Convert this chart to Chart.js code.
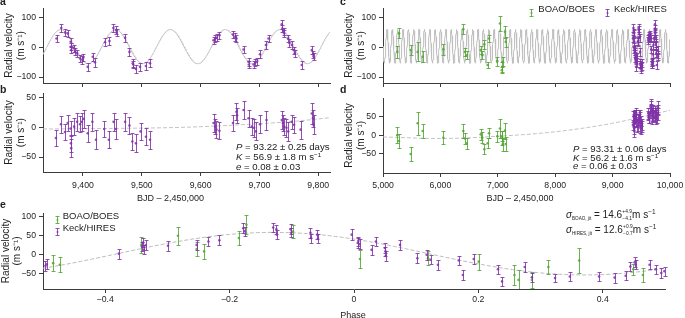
<!DOCTYPE html>
<html>
<head>
<meta charset="utf-8">
<script src="https://cdn.jsdelivr.net/npm/chart.js@4.4.1/dist/chart.umd.min.js"></script>
<style>
  html, body { margin:0; padding:0; background:#fff; }
  #wrap { position:relative; width:685px; height:318px; overflow:hidden; font-family:'Liberation Sans', Arial, Helvetica, sans-serif; color:#222; }
  #wrap canvas { position:absolute; }
  .t { position:absolute; white-space:nowrap; }
  .t sup { font-size:0.65em; vertical-align:0; position:relative; top:-0.5em; line-height:0; }
  .lt { font-weight:bold; }
  .stk { display:inline-block; position:relative; width:10px; height:1px; }
  .stk span { position:absolute; left:0.3px; font-size:4.8px; line-height:4.8px; }
  .sb { font-size:4.6px; position:relative; top:2.4px; }
  .ic { position:absolute; }
</style>
</head>
<body>
<div id="wrap">
  <canvas id="cA"></canvas><canvas id="cB"></canvas><canvas id="cC"></canvas><canvas id="cD"></canvas><canvas id="cE"></canvas>
</div>
<script>
// ---------------- data ----------------
const keckTimeA = [9355,9363,9369.5,9374,9379,9379.5,9380,9384,9386.5,9390,
  9395,9399,9400.6,9408,9416.6,9420.5,9437.5,9445,9451.7,9456,
  9457,9471.6,9479,9484.7,9485.5,9490,9497,9507,9514,
  9622,9624.8,9627.5,9632,9655,9659,9661,9673,9681.5,9682,
  9690,9693,9696,9701,9711,9715.5,9738,9739,9741,9742,
  9748.5,9751,9755,9758,9760,9772,9789,9791,9792];
const keckRvA = [29,64,49,46,18,1,-10,-4,-16,-21,
  -38,-43,-35,-66,-32,-51,16,20,64,57,
  49,31,-16,-54,-58,-73,-66,-63,-54,
  23,29,31,40,42,34,29,-8,-49,-58,
  -58,-52,-48,-24,7,29,76,62,53,46,
  29,14,7,-10,-21,-60,-10,-24,-31];
const keckErrA = [13,14,12,12,13,12,11,12,12,12,
  13,12,12,13,13,14,13,13,14,13,
  12,13,13,13,12,14,13,13,13,
  12,13,12,12,13,13,12,13,13,12,
  12,12,12,13,13,13,14,13,12,12,
  12,12,12,12,12,13,13,12,12];

const keckTimeB = [9354,9362.6,9369.4,9374,9379,9379.5,9380,9385,9390,9395,
  9398,9401,9408,9416,9422,9436,9444,9452,9456,9471.6,
  9479,9484,9490,9498,9507,9514,
  9622,9625,9627,9632,9655,9661,9662,9673,9681.5,9687,
  9691,9694,9701,9712,9738,9740,9742,9746,9749,9755,
  9759,9770,9789,9791,9792];
const keckResB = [-18,5,-8,7,-2,-27,-35,1,9,5,
  9,14,-10,9,-21,-3,-21,9,-3,9,
  3,-24,-27,-7,-16,-21,
  7,1,-4,-6,7,26,20,29,15,1,
  -1,-7,5,12,12,7,1,-1,-7,9,
  4,-4,23,15,4];
const keckErrB = [14,14,14,14,13,14,15,14,15,13,
  15,15,14,15,16,14,14,15,16,15,
  14,14,15,14,14,15,
  15,13,14,14,14,14,13,15,14,14,
  15,15,15,16,15,14,14,15,16,12,
  13,15,18,14,16];
const keckResD = [27,50,37,52,43,18,10,46,54,50,
  54,59,35,54,24,42,24,54,42,54,
  48,21,18,38,29,24,
  59,53,48,46,59,78,72,81,67,53,
  51,45,57,64,64,59,53,51,45,61,
  56,48,75,67,56];

const boaoTime = [5249,5279,5482,5604,5691,6051,6399,6429,6458,6702,6731,6765,6823,6847,6991,7038,7070,7078,7085,7125,7137];
const boaoRv   = [-16,46,-10,-16,-32,-7,60,-16,-27,-10,-27,9,-60,29,-47,79,-77,-66,-49,51,18];
const boaoErrC = [19,17,18,32,18,18,17,14,14,13,14,14,11,13,15,25,10,17,15,21,17];
const boaoResD = [0,-16,-51,32,11,-7,11,-9,-22,2,-7,-38,-22,5,-3,18,-3,-8,-25,12,-24];
const boaoErrD = [22,18,18,31,18,18,18,15,15,15,15,14,14,14,15,25,14,18,18,22,18];

const keckPhaseE = [-0.496,-0.494,-0.378,-0.341,-0.339,-0.338,-0.335,-0.299,-0.253,-0.234,
  -0.2165,-0.178,-0.176,-0.130,-0.1248,-0.124,-0.102,-0.101,-0.070,-0.069,
  -0.059,-0.058,
  -0.0037,0.006,0.007,0.009,0.0283,0.0352,0.0496,0.0506,0.051,0.074,
  0.1019,0.1168,0.123,0.1349,0.1685,0.175,0.1925,0.2315,0.238,0.2745,
  0.286,0.3232,0.347,0.394,0.419,0.4368,0.4443,0.4512,0.4528,0.4752,
  0.4848,0.494,0.4992];
const keckRvE = [-29,-25,3,22,32,13,25,24,26,35,
  38,70,62,72,67,53,67,58,58,44,
  53,42,
  53,31,36,28,13,35,18,9,-3,26,
  -9,0,-13,-26,-15,-53,-11,-38,-70,-32,
  -59,-61,-57,-57,-60,-55,-31,-20,-26,-26,
  -38,-48,-43];
const keckErrE = [14,13,13,13,12,12,13,13,13,13,
  13,13,12,13,12,12,13,12,13,12,
  12,12,
  14,12,12,13,13,13,13,12,12,13,
  13,13,12,13,13,13,13,12,12,13,
  12,11,12,13,13,12,12,13,12,12,
  12,12,12];
const boaoPhaseE = [-0.4837,-0.473,-0.342,-0.283,-0.253,-0.241,-0.185,-0.173,-0.098,0.0096,0.119,0.2005,0.258,0.2645,0.286,0.3125,0.362,0.449,0.4645];
const boaoRvE    = [-22,-26,26,50,15,9,44,79,61,-11,-9,-18,-53,-66,-66,-32,-15,-38,-53];
const boaoErrE   = [21,20,20,23,18,19,18,25,18,23,19,21,26,26,22,18,33,15,18];

const trendBTime = [9332,9450,9574,9684,9760,9820];
const trendBVal  = [-3,-2,0,5,10,16];
const trendDTime = [5000,6000,7000,8000,9000,10000];
const trendDVal  = [-5,-9,-3,9,32,67];

// fitted orbit parameters (model curves)
const fitA = {P:93.22, K:57, tPeak:9362, offset:1.5};
const fitC = {P:93.31, K:56.5, tPeak:9362, offset:2.5};
const fitE = {K:56, phasePeak:-0.13, offset:3};

const ticksXA = [9400,9500,9600,9700,9800];
const ticksXC = [5000,6000,7000,8000,9000,10000];
const ticksXE = [-0.4,-0.2,0,0.2,0.4];
const ticksYA = [-100,0,100];
const ticksYB = [-50,0,50];
const ticksYD = [-50,0,50];
const ticksYE = [-50,0,50,100];

// ---------------- helpers ----------------
const FONT = "'Liberation Sans', Arial, Helvetica, sans-serif";
const AXIS = '#3c3c3c';
const TXT = '#1e1e1e';
const PURPLE = 'rgba(128,50,168,0.85)';
const GREEN = 'rgba(82,166,52,0.85)';
const MODEL = '#bfbfbf';
const DASH = '#c4c4c4';

function pts(xs, ys) { return xs.map((x, i) => ({x: x, y: ys[i]})); }
function modelTime(fit, t0, t1, step) {
  const xs = [], ys = [];
  for (let t = t0; t <= t1 + 1e-9; t += step) { xs.push(t); ys.push(fit.K * Math.cos(2 * Math.PI * (t - fit.tPeak) / fit.P) + fit.offset); }
  return {xs, ys};
}
function modelPhase(fit, step) {
  const xs = [], ys = [];
  for (let p = -0.5; p <= 0.5 + 1e-9; p += step) { xs.push(p); ys.push(fit.K * Math.cos(2 * Math.PI * (p - fit.phasePeak)) + fit.offset); }
  return {xs, ys};
}
function ptSet(xs, ys, errs, color) {
  return {data: pts(xs, ys), errors: errs, backgroundColor: color, borderColor: color, pointRadius: 1.3, pointBorderWidth: 0, borderWidth: 0};
}
function lineSet(xs, ys, color, dash, smooth) {
  return {data: pts(xs, ys), showLine: true, borderColor: color, borderWidth: 1, borderDash: dash || [], pointRadius: 0,
          clip: 0, tension: smooth ? 0.4 : 0, cubicInterpolationMode: smooth ? 'monotone' : 'default'};
}
const fmtNum = v => (v < 0 ? '\u2212' : '') + Math.abs(v).toString().replace(/\B(?=(\d{3})+(?!\d))/g, ',');
const fmtPhase = v => v === 0 ? '0' : (v < 0 ? '\u2212' : '') + Math.abs(v).toFixed(1);

const errorBarPlugin = {
  id: 'errorBars',
  beforeDatasetDraw(chart, args) {
    const ds = chart.data.datasets[args.index];
    if (!ds.errors) return;
    const xs = args.meta.xScale, ys = args.meta.yScale;
    const ca = chart.chartArea, ctx = chart.ctx;
    ctx.save();
    ctx.beginPath(); ctx.rect(ca.left - 4, ca.top, ca.right - ca.left + 8, ca.bottom - ca.top); ctx.clip();
    ctx.strokeStyle = ds.borderColor; ctx.lineWidth = 1;
    ds.data.forEach((p, j) => {
      const e = ds.errors[j];
      const x = Math.round(xs.getPixelForValue(p.x)) + 0.5;
      const y1 = Math.round(ys.getPixelForValue(p.y - e)) + 0.5;
      const y2 = Math.round(ys.getPixelForValue(p.y + e)) + 0.5;
      ctx.beginPath();
      ctx.moveTo(x, y1); ctx.lineTo(x, y2);
      ctx.moveTo(x - 2, y1); ctx.lineTo(x + 2, y1);
      ctx.moveTo(x - 2, y2); ctx.lineTo(x + 2, y2);
      ctx.stroke();
    });
    ctx.restore();
  }
};

function panel(id, c) {
  const cv = document.getElementById(id);
  cv.style.left = c.left + 'px'; cv.style.top = c.top + 'px';
  cv.width = c.w; cv.height = c.h; cv.style.width = c.w + 'px'; cv.style.height = c.h + 'px';
  return new Chart(cv, {
    type: 'scatter',
    data: {datasets: c.datasets},
    options: {
      responsive: false, animation: false, events: [],
      layout: {padding: {top: c.padTop, right: c.padRight, left: 0, bottom: 0}},
      plugins: {legend: {display: false}, tooltip: {enabled: false}},
      scales: {
        x: {
          type: 'linear', min: c.xmin, max: c.xmax,
          afterFit: s => { s.height = c.xH; },
          afterBuildTicks: s => { s.ticks = c.xticks.map(v => ({value: v})); },
          grid: {display: true, drawOnChartArea: false, drawTicks: true, tickLength: 4, color: AXIS, tickColor: AXIS, tickWidth: 1},
          border: {display: true, color: AXIS, width: 1},
          ticks: {display: c.xLabels, padding: c.xPad, color: TXT, font: {family: FONT, size: 8.7}, callback: c.xfmt, maxRotation: 0, autoSkip: false}
        },
        y: {
          type: 'linear', min: c.ymin, max: c.ymax,
          afterFit: s => { s.width = 43; },
          afterBuildTicks: s => { s.ticks = c.yticks.map(v => ({value: v})); },
          grid: {display: true, drawOnChartArea: false, drawTicks: true, tickLength: 4, color: AXIS, tickColor: AXIS, tickWidth: 1},
          border: {display: true, color: AXIS, width: 1},
          ticks: {padding: 3, color: TXT, font: {family: FONT, size: 8.7}, callback: fmtNum},
          title: {display: true, text: ['Radial velocity', '(m s\u207B\u00B9)'], color: TXT,
                  font: {family: FONT, size: 10, lineHeight: c.titleLH || 1.25}, padding: {top: c.titlePad, bottom: 0}}
        }
      }
    },
    plugins: [errorBarPlugin]
  });
}

// ---------------- panels ----------------
const mA = modelTime(fitA, 9332, 9820, 1);
panel('cA', {left: 0, top: 0, w: 336, h: 92, padTop: 8, padRight: 6, xH: 9,
  xmin: 9332, xmax: 9820, ymin: -120, ymax: 130, xticks: ticksXA, yticks: ticksYA,
  xLabels: false, xPad: 4, xfmt: fmtNum, titlePad: 2.75,
  datasets: [ptSet(keckTimeA, keckRvA, keckErrA, PURPLE), lineSet(mA.xs, mA.ys, MODEL)]});

panel('cB', {left: 0, top: 85, w: 336, h: 107, padTop: 8, padRight: 6, xH: 20,
  xmin: 9332, xmax: 9820, ymin: -75, ymax: 57, xticks: ticksXA, yticks: ticksYB,
  xLabels: true, xPad: 4.4, xfmt: fmtNum, titlePad: 2.75,
  datasets: [ptSet(keckTimeB, keckResB, keckErrB, PURPLE), lineSet(trendBTime, trendBVal, DASH, [4, 2], true)]});

const mC = modelTime(fitC, 5000, 10000, 3);
panel('cC', {left: 340, top: 0, w: 348, h: 92, padTop: 8, padRight: 18, xH: 9,
  xmin: 5000, xmax: 10000, ymin: -120, ymax: 130, xticks: ticksXC, yticks: ticksYA,
  xLabels: false, xPad: 4, xfmt: fmtNum, titlePad: 2.75,
  datasets: [ptSet(keckTimeA, keckRvA, keckErrA, PURPLE), ptSet(boaoTime, boaoRv, boaoErrC, GREEN), lineSet(mC.xs, mC.ys, MODEL)]});

panel('cD', {left: 340, top: 85, w: 348, h: 108, padTop: 13, padRight: 18, xH: 20,
  xmin: 5000, xmax: 10000, ymin: -102, ymax: 100, xticks: ticksXC, yticks: ticksYD,
  xLabels: true, xPad: 3.4, xfmt: fmtNum, titlePad: 2.75,
  datasets: [ptSet(keckTimeB, keckResD, keckErrB, PURPLE), ptSet(boaoTime, boaoResD, boaoErrD, GREEN), lineSet(trendDTime, trendDVal, DASH, [4, 2], true)]});

const mE = modelPhase(fitE, 0.005);
panel('cE', {left: 0, top: 200, w: 670, h: 109, padTop: 13, padRight: 5, xH: 20,
  xmin: -0.5, xmax: 0.5, ymin: -90, ymax: 110, xticks: ticksXE, yticks: ticksYE,
  xLabels: true, xPad: 1.4, xfmt: fmtPhase, titlePad: 0, titleLH: 1.15,
  datasets: [ptSet(keckPhaseE, keckRvE, keckErrE, PURPLE), ptSet(boaoPhaseE, boaoRvE, boaoErrE, GREEN), lineSet(mE.xs, mE.ys, '#bbbbbb', [4, 2])]});

// ---------------- text overlays ----------------
const wrap = document.getElementById('wrap');
function addText(html, x, base, fs, align, cls) {
  const d = document.createElement('div');
  d.className = 't' + (cls ? ' ' + cls : '');
  d.innerHTML = html;
  const lh = Math.round(fs * 1.3);
  d.style.fontSize = fs + 'px';
  d.style.lineHeight = lh + 'px';
  d.style.top = (base - (lh - 1.117 * fs) / 2 - 0.905 * fs) + 'px';
  d.style.left = x + 'px';
  if (align === 'center') d.style.transform = 'translateX(-50%)';
  wrap.appendChild(d);
}
function addIcon(xc, yc, color) {
  const d = document.createElement('div');
  d.className = 'ic';
  d.style.left = (xc - 3) + 'px'; d.style.top = (yc - 5) + 'px';
  d.innerHTML = '<svg width="6" height="10" xmlns="http://www.w3.org/2000/svg">' +
    '<path d="M3.5 1.5 V8.5 M1.5 1.5 H5.5 M1.5 8.5 H5.5" stroke="' + color + '" stroke-width="1" fill="none"/>' +
    '<circle cx="3.5" cy="5" r="1" fill="' + color + '"/></svg>';
  wrap.appendChild(d);
}

// panel letters
addText('a', 0, 4.5, 10.5, null, 'lt');
addText('b', 0, 92.3, 10.5, null, 'lt');
addText('c', 340, 4.5, 10.5, null, 'lt');
addText('d', 340, 92.3, 10.5, null, 'lt');
addText('e', 0, 207.3, 10.5, null, 'lt');

// axis titles
addText('BJD \u2013 2,450,000', 170.5, 201, 9, 'center');
addText('BJD \u2013 2,450,000', 520, 201, 9, 'center');
addText('Phase', 353, 318, 9, 'center');

// fit annotations
addText('<i>P</i> = 93.22 \u00B1 0.25 days', 236, 150.7, 9.6);
addText('<i>K</i> = 56.9 \u00B1 1.8 m s<sup>\u22121</sup>', 236, 160, 9.6);
addText('<i>e</i> = 0.08 \u00B1 0.03', 236, 170, 9.6);
addText('<i>P</i> = 93.31 \u00B1 0.06 days', 573, 152.2, 9.6);
addText('<i>K</i> = 56.2 \u00B1 1.6 m s<sup>\u22121</sup>', 573, 161.2, 9.6);
addText('<i>e</i> = 0.06 \u00B1 0.03', 573, 169.8, 9.6);

addText('<i>\u03C3</i><span class="sb">BOAO, jit</span> = 14.6<span class="stk"><span style="top:-6.6px">+4.9</span><span style="top:0.2px">\u22124.1</span></span>m s<sup>\u22121</sup>', 566, 217.5, 10);
addText('<i>\u03C3</i><span class="sb">HIRES, jit</span> = 12.6<span class="stk"><span style="top:-6.6px">+0.9</span><span style="top:0.2px">\u22120.7</span></span>m s<sup>\u22121</sup>', 566, 232.5, 10);

// legends
addIcon(530.7, 9, GREEN); addText('BOAO/BOES', 538.3, 12.4, 9.5);
addIcon(606.7, 9, PURPLE); addText('Keck/HIRES', 614, 12.4, 9.5);
addIcon(56.5, 215.5, GREEN); addText('BOAO/BOES', 62.7, 219.4, 9.5);
addIcon(56.5, 228.3, PURPLE); addText('Keck/HIRES', 62.7, 231.6, 9.5);
</script>
</body>
</html>
